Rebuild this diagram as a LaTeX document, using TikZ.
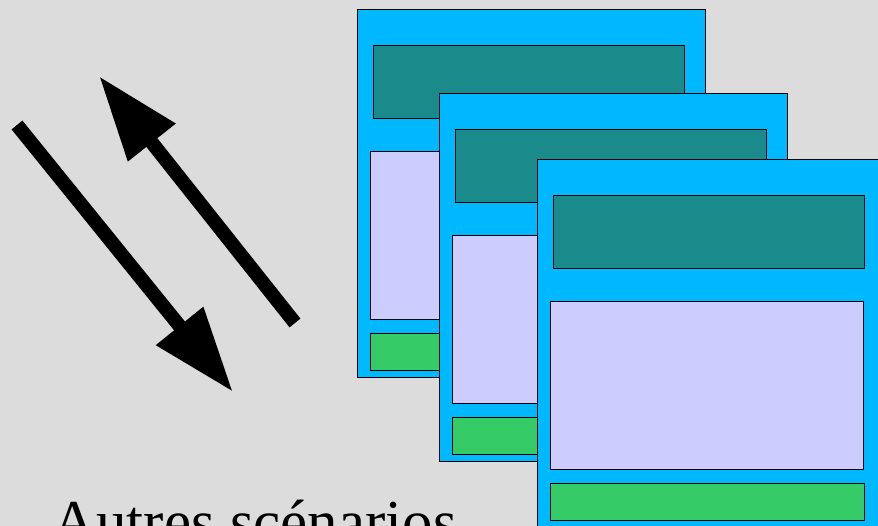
\documentclass[tikz,border=0pt]{standalone}
\usepackage{fontspec}
\setmainfont{Liberation Serif}
\usetikzlibrary{arrows.meta}

\definecolor{fond}{RGB}{220,220,220}
\definecolor{cadre}{RGB}{0,184,255}
\definecolor{entete}{RGB}{26,138,138}
\definecolor{corps}{RGB}{204,204,255}
\definecolor{pied}{RGB}{53,204,104}

\tikzset{
	bloc/.style={draw=black, line width=0.8pt},
	fleche/.style={line width=14pt, -{Triangle[length=85pt,width=57pt]}}
}

\begin{document}
\begin{tikzpicture}[x=1pt,y=-1pt]

	\useasboundingbox (0,0) rectangle (878,526);
	\clip (0,0) rectangle (878,526);
	\fill[fond] (0,0) rectangle (878,526);

	% les trois scenarios empiles
	\foreach \dx/\dy in {357/9, 439/93, 537/159} {
		\begin{scope}[shift={(\dx,\dy)}]
			\filldraw[bloc, fill=cadre] (0,0) rectangle (348,368);
			\filldraw[bloc, fill=entete] (16,36) rectangle (327,109);
			\filldraw[bloc, fill=corps] (13,142) rectangle (326,310);
			\filldraw[bloc, fill=pied] (13,324) rectangle (327,361);
		\end{scope}
	}

	% aller et retour
	\coordinate (aller debut) at (17,125);
	\coordinate (aller fin) at (233,392);
	\coordinate (retour debut) at (295,323);
	\coordinate (retour fin) at (99,76);
	\draw[fleche] (aller debut) -- (aller fin);
	\draw[fleche] (retour debut) -- (retour fin);

	\node[anchor=base west, inner sep=0pt, font=\fontsize{61}{62}\selectfont] (titre) at (52,542) {Autres scénarios};

\end{tikzpicture}
\end{document}
